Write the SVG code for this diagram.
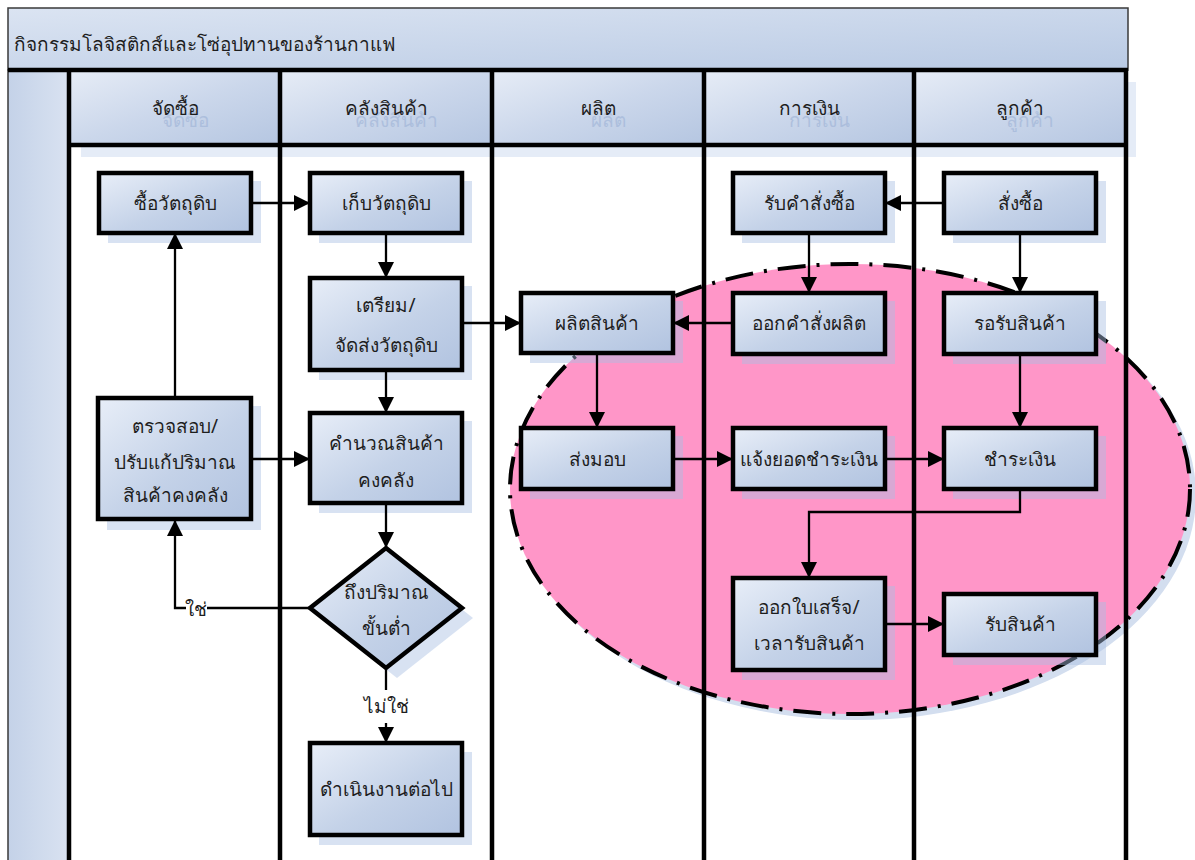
<svg xmlns="http://www.w3.org/2000/svg" width="1195" height="860" viewBox="0 0 1195 860">
  <defs>
    <linearGradient id="gNode" x1="0" y1="0" x2="1" y2="1">
      <stop offset="0" stop-color="#e8eef8"/>
      <stop offset="0.55" stop-color="#c4d2e8"/>
      <stop offset="1" stop-color="#b1c3e0"/>
    </linearGradient>
    <linearGradient id="gHead" x1="0" y1="0" x2="1" y2="1">
      <stop offset="0" stop-color="#e6ecf6"/>
      <stop offset="0.5" stop-color="#cbd7eb"/>
      <stop offset="1" stop-color="#b5c6e1"/>
    </linearGradient>
    <linearGradient id="gTitle" x1="0" y1="0" x2="1" y2="1">
      <stop offset="0" stop-color="#dbe4f2"/>
      <stop offset="1" stop-color="#b9cae4"/>
    </linearGradient>
    <linearGradient id="gSide" x1="0" y1="0" x2="1" y2="0">
      <stop offset="0" stop-color="#c4d2e8"/>
      <stop offset="1" stop-color="#d9e2f1"/>
    </linearGradient>
    <marker id="arrow" markerUnits="userSpaceOnUse" markerWidth="16" markerHeight="16" refX="16" refY="8" orient="auto">
      <path d="M0,0 L16,8 L0,16 Z" fill="#000"/>
    </marker>
    <style>
      .node .box { fill: url(#gNode); stroke: #000; stroke-width: 4.5; }
      .node .shadow, .shadow { fill: #a9bfe3; opacity: 0.45; stroke: none; }
      .lbl { font-family: "Noto Sans", "DejaVu Sans", "Liberation Sans", sans-serif; font-size: 19px; fill: #1e1e1e; text-anchor: middle; }
      .head { font-family: "Noto Sans", "DejaVu Sans", "Liberation Sans", sans-serif; font-size: 19px; fill: #1e1e1e; text-anchor: middle; }
      .ghost { font-family: "Noto Sans", "DejaVu Sans", "Liberation Sans", sans-serif; font-size: 19px; fill: #9db2d6; opacity: 0.6; text-anchor: middle; }
      .lane { stroke: #000; stroke-width: 4.5; fill: none; }
      .conn path { fill: none; stroke: #000; stroke-width: 2.3; marker-end: url(#arrow); }
      .conn path.plain { marker-end: none; }
    </style>
  </defs>

  <rect width="1195" height="860" fill="#fff"/>

  <!-- pool frame: title bar and left band -->
  <g id="pool">
    <rect x="8" y="8" width="1120" height="62" fill="url(#gTitle)" stroke="#3a3a3a" stroke-width="1.5"/>
    <text x="14" y="51" font-family="Noto Sans, DejaVu Sans, Liberation Sans, sans-serif" font-size="19" fill="#1e1e1e">กิจกรรมโลจิสติกส์และโซ่อุปทานของร้านกาแฟ</text>
    <rect x="8" y="70" width="61" height="800" fill="url(#gSide)" stroke="#3a3a3a" stroke-width="1.5"/>
  </g>

  <!-- lane headers -->
  <g id="lane-headers">
    <rect class="shadow" x="81" y="82" width="1055" height="75" style="opacity:0.3"/>
    <rect x="69" y="72" width="211" height="73" fill="url(#gHead)"/>
    <rect x="280" y="72" width="212" height="73" fill="url(#gHead)"/>
    <rect x="492" y="72" width="212" height="73" fill="url(#gHead)"/>
    <rect x="704" y="72" width="210" height="73" fill="url(#gHead)"/>
    <rect x="914" y="72" width="212" height="73" fill="url(#gHead)"/>
    <text class="ghost" x="185" y="127">จัดซื้อ</text>
    <text class="ghost" x="396" y="127">คลังสินค้า</text>
    <text class="ghost" x="608" y="127">ผลิต</text>
    <text class="ghost" x="819" y="127">การเงิน</text>
    <text class="ghost" x="1030" y="127">ลูกค้า</text>
    <text class="head" x="175" y="115">จัดซื้อ</text>
    <text class="head" x="386" y="115">คลังสินค้า</text>
    <text class="head" x="598" y="115">ผลิต</text>
    <text class="head" x="809" y="115">การเงิน</text>
    <text class="head" x="1020" y="115">ลูกค้า</text>
  </g>

  <!-- highlighted region -->
  <g id="highlight">
    <ellipse cx="856" cy="495" rx="340" ry="225" fill="#d3deef"/>
    <ellipse cx="850" cy="489" rx="340" ry="225" fill="#ff96c8" stroke="#000" stroke-width="4" stroke-dasharray="28 11 3 11"/>
  </g>

  <!-- lane separators -->
  <g id="lanes">
    <path class="lane" d="M8,70 H1128"/>
    <path class="lane" d="M69,145 H1126"/>
    <path class="lane" d="M69,70 V860 M280,70 V860 M492,70 V860 M704,70 V860 M914,70 V860 M1126,70 V860"/>
  </g>

  <!-- purchasing lane -->
  <g id="buy-raw" class="node">
    <rect class="shadow" x="108" y="181" width="153" height="62"/>
    <rect class="box" x="99" y="173" width="152" height="60"/>
    <text class="lbl" x="175" y="210">ซื้อวัตถุดิบ</text>
  </g>
  <g id="check-stock" class="node">
    <rect class="shadow" x="107" y="406" width="154" height="124"/>
    <rect class="box" x="98" y="398" width="153" height="121"/>
    <text class="lbl" x="175" y="433">ตรวจสอบ/</text>
    <text class="lbl" x="175" y="469">ปรับแก้ปริมาณ</text>
    <text class="lbl" x="175" y="502">สินค้าคงคลัง</text>
  </g>

  <!-- warehouse lane -->
  <g id="store-raw" class="node">
    <rect class="shadow" x="319" y="181" width="153" height="62"/>
    <rect class="box" x="310" y="173" width="152" height="60"/>
    <text class="lbl" x="386" y="210">เก็บวัตถุดิบ</text>
  </g>
  <g id="prepare-raw" class="node">
    <rect class="shadow" x="319" y="286" width="153" height="94"/>
    <rect class="box" x="310" y="278" width="152" height="92"/>
    <text class="lbl" x="386" y="312">เตรียม/</text>
    <text class="lbl" x="386" y="352">จัดส่งวัตถุดิบ</text>
  </g>
  <g id="calc-stock" class="node">
    <rect class="shadow" x="319" y="421" width="153" height="92"/>
    <rect class="box" x="310" y="413" width="152" height="90"/>
    <text class="lbl" x="386" y="450">คำนวณสินค้า</text>
    <text class="lbl" x="386" y="487">คงคลัง</text>
  </g>
  <g id="min-level" class="node">
    <polygon class="shadow" points="397,558 473,618 397,678 321,618"/>
    <polygon class="box" points="386,548 462,608 386,668 310,608"/>
    <text class="lbl" x="386" y="599">ถึงปริมาณ</text>
    <text class="lbl" x="386" y="635">ขั้นต่ำ</text>
  </g>
  <g id="continue" class="node">
    <rect class="shadow" x="319" y="752" width="153" height="93"/>
    <rect class="box" x="310" y="743" width="152" height="92"/>
    <text class="lbl" x="386" y="796">ดำเนินงานต่อไป</text>
  </g>

  <!-- production lane -->
  <g id="produce" class="node">
    <rect class="shadow" x="530" y="301" width="153" height="62"/>
    <rect class="box" x="521" y="293" width="152" height="60"/>
    <text class="lbl" x="597" y="330">ผลิตสินค้า</text>
  </g>
  <g id="deliver" class="node">
    <rect class="shadow" x="530" y="436" width="153" height="63"/>
    <rect class="box" x="521" y="428" width="152" height="61"/>
    <text class="lbl" x="597" y="466">ส่งมอบ</text>
  </g>

  <!-- finance lane -->
  <g id="receive-order" class="node">
    <rect class="shadow" x="742" y="181" width="153" height="62"/>
    <rect class="box" x="733" y="173" width="152" height="60"/>
    <text class="lbl" x="809" y="210">รับคำสั่งซื้อ</text>
  </g>
  <g id="issue-prod-order" class="node">
    <rect class="shadow" x="742" y="301" width="153" height="63"/>
    <rect class="box" x="733" y="293" width="152" height="61"/>
    <text class="lbl" x="809" y="330">ออกคำสั่งผลิต</text>
  </g>
  <g id="bill" class="node">
    <rect class="shadow" x="742" y="436" width="153" height="63"/>
    <rect class="box" x="733" y="428" width="152" height="61"/>
    <text class="lbl" x="809" y="466">แจ้งยอดชำระเงิน</text>
  </g>
  <g id="receipt" class="node">
    <rect class="shadow" x="742" y="586" width="153" height="94"/>
    <rect class="box" x="733" y="578" width="152" height="92"/>
    <text class="lbl" x="809" y="614">ออกใบเสร็จ/</text>
    <text class="lbl" x="809" y="650">เวลารับสินค้า</text>
  </g>

  <!-- customer lane -->
  <g id="place-order" class="node">
    <rect class="shadow" x="953" y="181" width="153" height="62"/>
    <rect class="box" x="944" y="173" width="152" height="60"/>
    <text class="lbl" x="1020" y="210">สั่งซื้อ</text>
  </g>
  <g id="await-goods" class="node">
    <rect class="shadow" x="953" y="301" width="153" height="63"/>
    <rect class="box" x="944" y="293" width="152" height="61"/>
    <text class="lbl" x="1020" y="330">รอรับสินค้า</text>
  </g>
  <g id="pay" class="node">
    <rect class="shadow" x="953" y="436" width="153" height="63"/>
    <rect class="box" x="944" y="428" width="152" height="61"/>
    <text class="lbl" x="1020" y="466">ชำระเงิน</text>
  </g>
  <g id="get-goods" class="node">
    <rect class="shadow" x="953" y="602" width="153" height="63"/>
    <rect class="box" x="944" y="594" width="152" height="61"/>
    <text class="lbl" x="1020" y="631">รับสินค้า</text>
  </g>

  <!-- connectors, drawn last so arrowheads sit above node shadows -->
  <g id="connectors" class="conn">
    <path d="M251,203 H310"/>
    <path d="M386,233 V278"/>
    <path d="M386,370 V413"/>
    <path d="M386,503 V548"/>
    <path class="plain" d="M386,668 V690"/>
    <path d="M386,723 V743"/>
    <path class="plain" d="M310,608 H207"/>
    <path d="M186,608 H175 V520"/>
    <path d="M251,459 H310"/>
    <path d="M175,397 V233"/>
    <path d="M462,323 H521"/>
    <path d="M733,323 H673"/>
    <path d="M597,353 V428"/>
    <path d="M673,459 H733"/>
    <path d="M885,459 H944"/>
    <path d="M944,203 H885"/>
    <path d="M809,233 V293"/>
    <path d="M1020,233 V293"/>
    <path d="M1020,354 V428"/>
    <path d="M1020,489 V512 H809 V578"/>
    <path d="M885,624 H944"/>
    <text class="lbl" x="196" y="616">ใช่</text>
    <text class="lbl" x="386" y="713">ไม่ใช่</text>
  </g>
</svg>
